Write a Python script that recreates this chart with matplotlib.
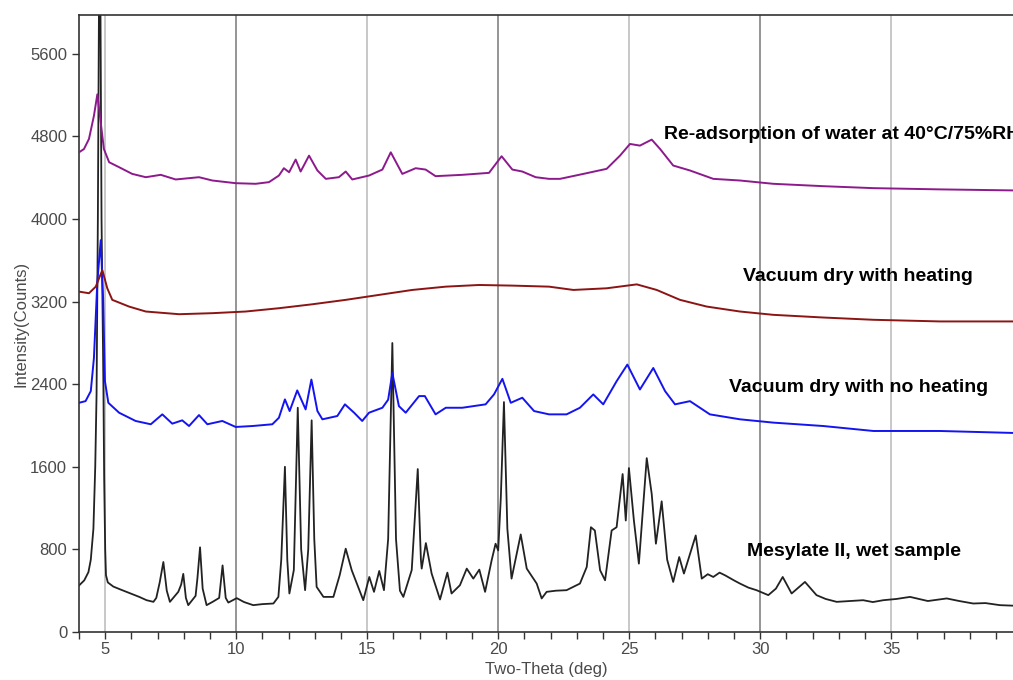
import matplotlib
matplotlib.use("Agg")
import matplotlib.pyplot as plt
from matplotlib.ticker import MultipleLocator

plt.rcParams['font.family'] = ['Liberation Sans', 'DejaVu Sans']

# ---- data (2-theta in deg, intensity in counts) ----
mes_x = [4.00, 4.20, 4.36, 4.45, 4.55, 4.62, 4.67, 4.72, 4.76, 4.79, 4.82, 4.86, 4.93, 4.96, 5.00, 5.03,
         5.10, 5.31, 5.60, 5.95, 6.30, 6.58, 6.84, 6.95, 7.08, 7.22, 7.35, 7.47, 7.79, 7.90, 7.98, 8.08, 8.17, 8.45,
         8.52, 8.62, 8.72, 8.87, 9.10, 9.35, 9.48, 9.60, 9.70, 10.02, 10.30, 10.65, 11.00, 11.42, 11.61, 11.72, 11.86, 11.95,
         12.03, 12.20, 12.35, 12.48, 12.63, 12.75, 12.88, 12.98, 13.07, 13.33, 13.71, 13.95, 14.18, 14.41,
         14.60, 14.85, 15.08, 15.26, 15.46, 15.64, 15.80, 15.96, 16.10, 16.25, 16.38, 16.70, 16.93, 17.05,
         17.08, 17.24, 17.46, 17.78, 18.06, 18.22, 18.54, 18.80, 19.05, 19.28, 19.50, 19.75, 19.90, 20.00,
         20.10, 20.22, 20.35, 20.51, 20.86, 21.09, 21.47, 21.66, 21.85, 22.20, 22.61, 23.12, 23.38, 23.54, 23.69,
         23.89, 24.08, 24.33, 24.52, 24.75, 24.87, 24.99, 25.18, 25.37, 25.67, 25.86, 26.02, 26.24, 26.45,
         26.68, 26.91, 27.09, 27.54, 27.77, 28.00, 28.21, 28.45, 28.66, 29.00, 29.23, 29.55, 29.86, 30.31, 30.60, 30.86,
         31.20, 31.71, 32.15, 32.50, 32.92, 33.40, 33.93, 34.30, 34.70, 35.20, 35.72, 36.40, 37.12, 37.60, 38.13,
         38.60, 39.15, 39.65]
mes_y = [450, 500, 580, 700, 1000, 1600, 2300, 4000, 6000, 7000, 6000, 4000, 2430, 1500, 800, 550,
         480, 440, 410, 375, 340, 308, 292, 330, 480, 678, 400, 292, 389, 460, 563, 330, 260, 350,
         520, 820, 420, 260, 292, 330, 645, 330, 285, 328, 290, 260, 270, 276, 340, 700, 1600, 700,
         373, 600, 2172, 800, 405, 800, 2050, 900, 437, 340, 340, 550, 807, 598,
         472, 308, 533, 389, 591, 405, 900, 2799, 900, 400, 340, 600, 1578, 700,
         614, 861, 566, 315, 575, 373, 453, 614, 517, 604, 389, 694, 855, 790,
         1300, 2227, 1000, 517, 945, 614, 469, 325, 389, 400, 405, 469, 630, 1015, 983,
         598, 501, 983, 1015, 1530, 1080, 1588, 1080, 662, 1684, 1337, 855, 1266, 700,
         485, 726, 566, 935, 517, 560, 533, 575, 549, 500, 469, 430, 405, 357, 420, 533,
         373, 485, 357, 320, 292, 300, 308, 290, 308, 320, 340, 300, 325, 300, 276,
         280, 260, 255]

vac_x = [4.00, 4.25, 4.45, 4.57, 4.70, 4.83, 4.92, 4.99, 5.12, 5.53, 6.16, 6.74, 7.18, 7.56, 7.94, 8.20,
         8.58, 8.90, 9.47, 9.98, 10.62, 11.38, 11.63, 11.86, 12.04, 12.33, 12.65, 12.87, 13.10, 13.29,
         13.86, 14.15, 14.50, 14.81, 15.07, 15.58, 15.80, 15.96, 16.21, 16.47, 16.98, 17.20, 17.61, 18.00, 18.63,
         19.52, 19.84, 20.16, 20.48, 20.92, 21.37, 21.94, 22.61, 23.12, 23.63, 24.01, 24.52, 24.93, 25.41,
         25.92, 26.37, 26.75, 27.32, 28.08, 29.23, 30.50, 32.41, 34.32, 36.86, 39.65]
vac_y = [2220, 2236, 2333, 2654, 3393, 3795, 3232, 2429, 2220, 2124, 2044, 2012, 2108, 2018, 2050, 1995,
         2101, 2012, 2044, 1986, 1995, 2012, 2075, 2253, 2140, 2340, 2156, 2445, 2140, 2060,
         2092, 2205, 2124, 2044, 2124, 2172, 2250, 2509, 2188, 2124, 2285, 2285, 2108, 2172, 2172,
         2205, 2301, 2452, 2220, 2269, 2140, 2108, 2108, 2172, 2301, 2205, 2429, 2590, 2349,
         2557, 2333, 2205, 2236, 2108, 2060, 2028, 1995, 1947, 1947, 1928]

heat_x = [4.00, 4.38, 4.64, 4.89, 5.08, 5.27, 5.91, 6.55, 7.82, 9.09, 10.36, 11.63, 12.90, 14.18, 15.45,
          16.72, 18.00, 19.27, 20.54, 21.94, 22.87, 24.14, 25.29, 26.05, 26.94, 27.96, 29.23, 30.50,
          32.41, 34.32, 36.86, 39.65]
heat_y = [3297, 3281, 3345, 3506, 3329, 3217, 3152, 3104, 3078, 3088, 3104, 3136, 3174, 3217, 3265,
          3313, 3345, 3361, 3355, 3345, 3313, 3329, 3367, 3313, 3217, 3152, 3104, 3072,
          3046, 3024, 3008, 3008]

rh_x = [4.00, 4.19, 4.38, 4.57, 4.70, 4.83, 4.95, 5.15, 5.53, 6.03, 6.55, 7.12, 7.69, 8.58, 9.09, 9.98,
        10.74, 11.25, 11.63, 11.82, 12.02, 12.27, 12.46, 12.78, 13.10, 13.42, 13.92, 14.18, 14.43, 15.07,
        15.58, 15.90, 16.34, 16.85, 17.23, 17.61, 18.63, 19.65, 20.13, 20.54, 20.92, 21.43, 21.94, 22.36,
        23.25, 24.14, 24.65, 25.03, 25.41, 25.86, 26.18, 26.68, 27.32, 28.21, 29.23, 30.50, 32.41, 34.32,
        36.86, 39.65]
rh_y = [4646, 4678, 4775, 5000, 5208, 4935, 4678, 4550, 4502, 4437, 4405, 4428, 4383, 4405, 4373, 4347,
        4341, 4357, 4421, 4492, 4453, 4576, 4460, 4614, 4470, 4389, 4405, 4460, 4383, 4421,
        4479, 4646, 4437, 4492, 4479, 4415, 4428, 4447, 4608, 4479, 4460, 4405, 4389, 4389,
        4437, 4486, 4614, 4727, 4711, 4769, 4678, 4518, 4470, 4389, 4373, 4341, 4318, 4299,
        4287, 4277]

labels = ["Mesylate II, wet sample", "Vacuum dry with no heating",
          "Vacuum dry with heating", "Re-adsorption of water at 40°C/75%RH"]
label_pos_x = [29.48, 28.81, 29.34, 26.33]
label_pos_y = [735, 2323, 3403, 4771]

x_ticks = [5, 10, 15, 20, 25, 30, 35]
y_ticks = [0, 800, 1600, 2400, 3200, 4000, 4800, 5600]

# ---- figure ----
fig = plt.figure(figsize=(10.13, 6.80), dpi=100)
ax = fig.add_axes([79/1013, 48/680, 1 - 79/1013, (632-15)/680])

tick_col = '#4a4a4a'
for g in x_ticks:
    col = '#8c8c8c' if g % 10 == 0 else '#c4c4c4'
    ax.axvline(g, color=col, lw=1.3, zorder=1)

ax.plot(mes_x, mes_y, color='#222222', lw=1.3, zorder=2)
ax.plot(vac_x, vac_y, color='#1414f0', lw=1.4, zorder=3)
ax.plot(heat_x, heat_y, color='#8b1414', lw=1.4, zorder=3)
ax.plot(rh_x, rh_y, color='#8c1a8c', lw=1.4, zorder=3)

for t, lx, ly in zip(labels, label_pos_x, label_pos_y):
    ax.text(lx, ly, t, fontsize=14, fontweight='bold', color='black',
            ha='left', va='baseline', clip_on=False, zorder=5)

ax.set_xlim(4, 39.65)
ax.set_ylim(0, 5976)
ax.set_xticks(x_ticks)
ax.xaxis.set_minor_locator(MultipleLocator(1))
ax.set_yticks(y_ticks)
ax.tick_params(axis='both', which='both', direction='out', length=5, width=1,
               colors='#333333', labelcolor=tick_col, labelsize=12)
ax.tick_params(axis='x', pad=2)
ax.spines['right'].set_visible(False)
for s in ['left', 'bottom', 'top']:
    ax.spines[s].set_color('#333333')
    ax.spines[s].set_linewidth(1.2)

ax.set_xlabel("Two-Theta (deg)", fontsize=12, color=tick_col, labelpad=4)
ax.set_ylabel("Intensity(Counts)", fontsize=12, color=tick_col, labelpad=1)

fig.savefig("out.png", dpi=100)
